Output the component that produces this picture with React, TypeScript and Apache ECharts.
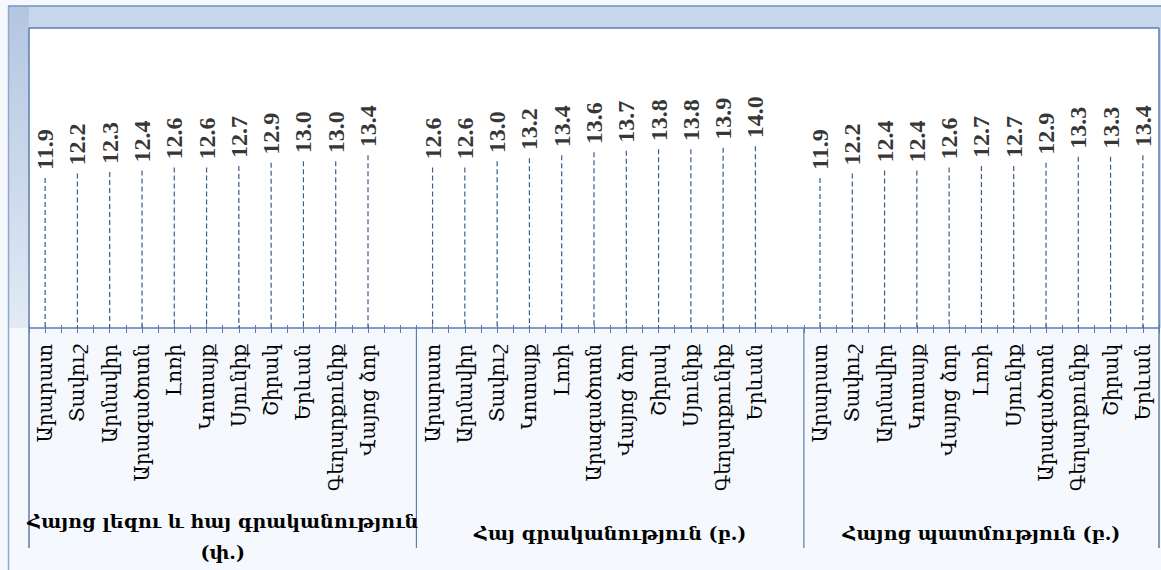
import React, { useEffect, useRef } from "react";
import * as echarts from "echarts";

// ---- data ----
const groupNames = [
  "Հայոց լեզու և հայ գրականություն\n(փ.)",
  "Հայ գրականություն (բ.)",
  "Հայոց պատմություն (բ.)",
];
const regions1 = ["Արարատ", "Տավուշ", "Արմավիր", "Արագածոտն", "Լոռի", "Կոտայք", "Սյունիք", "Շիրակ", "Երևան", "Գեղարքունիք", "Վայոց ձոր"];
const values1 = [11.9, 12.2, 12.3, 12.4, 12.6, 12.6, 12.7, 12.9, 13.0, 13.0, 13.4];
const regions2 = ["Արարատ", "Արմավիր", "Տավուշ", "Կոտայք", "Լոռի", "Արագածոտն", "Վայոց ձոր", "Շիրակ", "Սյունիք", "Գեղարքունիք", "Երևան"];
const values2 = [12.6, 12.6, 13.0, 13.2, 13.4, 13.6, 13.7, 13.8, 13.8, 13.9, 14.0];
const regions3 = ["Արարատ", "Տավուշ", "Արմավիր", "Կոտայք", "Վայոց ձոր", "Լոռի", "Սյունիք", "Արագածոտն", "Գեղարքունիք", "Շիրակ", "Երևան"];
const values3 = [11.9, 12.2, 12.4, 12.4, 12.6, 12.7, 12.7, 12.9, 13.3, 13.3, 13.4];

const Y_MIN = 2;
const Y_MAX = 21.8;

export default function App() {
  const ref = useRef<HTMLDivElement>(null);
  useEffect(() => {
    if (!ref.current) return;
    const chart = echarts.init(ref.current, undefined, { renderer: "svg" });

    // build slots: 11 + blank + 11 + blank + 11
    const groups = [
      { regions: regions1, values: values1 },
      { regions: regions2, values: values2 },
      { regions: regions3, values: values3 },
    ];
    const categories: string[] = [];
    const points: [number, number][] = [];
    const groupStart: number[] = [];
    const groupEnd: number[] = [];
    groups.forEach((g, gi) => {
      groupStart.push(categories.length);
      g.regions.forEach((r, i) => {
        points.push([categories.length, g.values[i]]);
        categories.push(r);
      });
      if (gi < groups.length - 1) categories.push(" ");
      groupEnd.push(categories.length);
    });

    const W = 1161;
    const H = 570;
    const gridLeft = 29;
    const gridRight = 1159;
    const gridTop = 28;
    const gridBottomY = 328;
    const slot = (gridRight - gridLeft) / categories.length;
    const bx = (k: number) => gridLeft + k * slot;

    const frameColor = "#5b7db0";
    const armFont = "DejaVu Serif";

    const graphics: any[] = [
      // top band
      { type: "rect", z: -10, silent: true, shape: { x: 8, y: 6, width: W - 8, height: 22 }, style: { fill: "#c6d6eb" } },
      // left band
      {
        type: "rect", z: -10, silent: true,
        shape: { x: 8, y: 6, width: 21, height: gridBottomY - 6 },
        style: {
          fill: new echarts.graphic.LinearGradient(0, 0, 0, 1, [
            { offset: 0, color: "#b3c6e1" },
            { offset: 1, color: "#e2eaf5" },
          ]),
        },
      },
      // right band
      { type: "rect", z: -10, silent: true, shape: { x: gridRight, y: 6, width: W - gridRight, height: gridBottomY - 6 }, style: { fill: "#c6d6eb" } },
      // plot area
      { type: "rect", z: -9, silent: true, shape: { x: gridLeft, y: gridTop, width: gridRight - gridLeft, height: gridBottomY - gridTop }, style: { fill: "#ffffff" } },
      // outer lines
      { type: "line", z: -8, silent: true, shape: { x1: 8, y1: 6, x2: W, y2: 6 }, style: { stroke: "#7393c2", lineWidth: 1.5 } },
      { type: "line", z: -8, silent: true, shape: { x1: 8.5, y1: 6, x2: 8.5, y2: H }, style: { stroke: "#8ea8cc", lineWidth: 1.5 } },
      { type: "line", z: -8, silent: true, shape: { x1: gridLeft, y1: gridTop, x2: gridRight, y2: gridTop }, style: { stroke: frameColor, lineWidth: 1.5 } },
      { type: "line", z: -8, silent: true, shape: { x1: gridLeft, y1: gridTop, x2: gridLeft, y2: 548 }, style: { stroke: frameColor, lineWidth: 1.5 } },
      { type: "line", z: -8, silent: true, shape: { x1: gridRight, y1: gridTop, x2: gridRight, y2: 548 }, style: { stroke: frameColor, lineWidth: 1.5 } },
    ];
    // separators between groups
    [groupEnd[0], groupEnd[1]].forEach((k) => {
      graphics.push({ type: "line", z: -8, silent: true, shape: { x1: bx(k), y1: gridBottomY, x2: bx(k), y2: 548 }, style: { stroke: frameColor, lineWidth: 1.2 } });
    });
    // group labels
    const groupLabelY = [536, 533, 533];
    groups.forEach((_, gi) => {
      const cx = (bx(groupStart[gi]) + bx(groupEnd[gi])) / 2;
      graphics.push({
        type: "text", z: 5,
        x: cx, y: groupLabelY[gi],
        style: {
          text: groupNames[gi],
          font: `bold 19px "${armFont}"`,
          fill: "#000",
          align: "center",
          verticalAlign: "middle",
          lineHeight: 31,
        },
      });
    });

    const baseAxis = {
      type: "category",
      data: categories,
      position: "bottom",
      boundaryGap: true,
      axisLabel: { show: false },
      splitLine: { show: false },
      axisLine: { show: false },
    };

    chart.setOption({
      animation: false,
      backgroundColor: "#f5f8fc",
      grid: { left: gridLeft, right: W - gridRight, top: gridTop, bottom: H - gridBottomY },
      xAxis: [
        {
          ...baseAxis,
          axisLine: { show: true, lineStyle: { color: frameColor, width: 1.5 } },
          axisTick: { show: true, alignWithLabel: true, interval: 0, length: 5, lineStyle: { color: frameColor } },
          axisLabel: {
            show: true,
            interval: 0,
            rotate: 90,
            margin: 16,
            fontFamily: armFont,
            fontSize: 20,
            color: "#000",
          },
        },
        { ...baseAxis, axisTick: { show: true, alignWithLabel: false, interval: 0, length: 5, lineStyle: { color: frameColor } } },
        { ...baseAxis, axisTick: { show: true, inside: true, alignWithLabel: true, interval: 0, length: 3, lineStyle: { color: frameColor } } },
        { ...baseAxis, axisTick: { show: true, inside: true, alignWithLabel: false, interval: 0, length: 3, lineStyle: { color: frameColor } } },
      ],
      yAxis: { type: "value", min: Y_MIN, max: Y_MAX, show: false, splitLine: { show: false } },
      graphic: graphics,
      series: [
        {
          type: "custom",
          xAxisIndex: 0,
          data: points,
          encode: { x: 0, y: 1 },
          z: 3,
          renderItem: (params: any, api: any) => {
            const x = api.value(0);
            const v = api.value(1);
            const top = api.coord([x, v]);
            const bottom = api.coord([x, Y_MIN]);
            return {
              type: "line",
              shape: { x1: top[0], y1: top[1], x2: bottom[0], y2: bottom[1] },
              style: { stroke: "#3b5c90", lineWidth: 1.2, lineDash: [5, 3] },
            };
          },
        },
        {
          type: "scatter",
          xAxisIndex: 0,
          data: points,
          symbolSize: 0,
          z: 4,
          label: {
            show: true,
            position: "top",
            distance: 8,
            rotate: 90,
            align: "left",
            verticalAlign: "middle",
            fontFamily: "Liberation Serif",
            fontWeight: "bold",
            fontSize: 24,
            color: "#000",
            formatter: (p: any) => (p.value[1] as number).toFixed(1),
          },
        },
      ],
    });

    return () => chart.dispose();
  }, []);

  return (
    <div
      ref={ref}
      style={{ position: "fixed", left: 0, top: 0, width: 1161, height: 570 }}
    />
  );
}
